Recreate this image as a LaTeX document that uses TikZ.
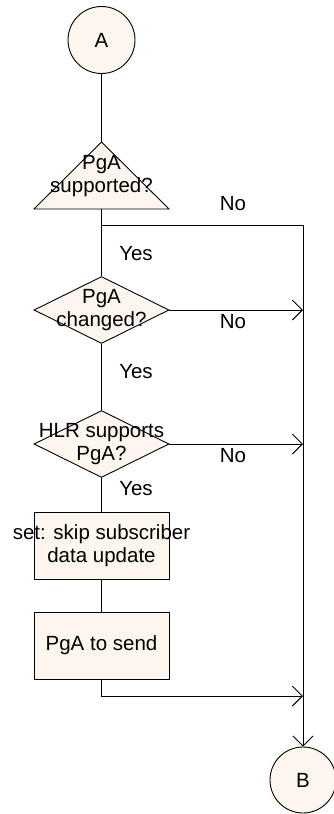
\documentclass[tikz,border=0pt]{standalone}
\usepackage{fontspec}
\setmainfont{Liberation Sans}
\usetikzlibrary{shapes.geometric,arrows.meta}
\definecolor{cream}{RGB}{253,246,238}
\begin{document}
\begin{tikzpicture}[x=1pt,y=-1pt,line width=0.9pt,
  font=\fontsize{20.5}{23}\selectfont,
  conn/.style={circle,draw,fill=cream,minimum size=67pt,inner sep=0pt},
  dia/.style={diamond,draw,fill=cream,minimum width=135pt,minimum height=67pt,inner sep=0pt},
  box/.style={rectangle,draw,fill=cream,minimum width=135pt,minimum height=67pt,inner sep=0pt},
  lbl/.style={align=center,inner sep=0pt},
  arr/.style={-{Straight Barb[length=10pt,width=20pt]}}]
\useasboundingbox (0,0) rectangle (333,814);
% connectors A and B
\node[conn] (A) at (101.5,40) {A};
\node[conn,minimum size=66pt] (B) at (303,780) {B};
% triangle decision
\coordinate (tA) at (101.5,142);
\coordinate (tL) at (34,209);
\coordinate (tR) at (169,209);
\coordinate (tB) at (101.5,209);
\draw[fill=cream] (tA) -- (tL) -- (tR) -- cycle;
\node[lbl] (t1) at (101.5,176) {PgA\\supported?};
% diamonds
\node[dia] (d1) at (101.5,310) {};
\node[lbl] (d1t) at (d1) {PgA\\changed?};
\node[dia] (d2) at (101.5,444) {};
\node[lbl] (d2t) at (d2) {HLR supports\\PgA?};
% boxes
\node[box] (b1) at (101.5,545.5) {};
\node[lbl] (b1t) at (b1) {set: skip subscriber\\data update};
\node[box] (b2) at (101.5,645.5) {};
\node[lbl] (b2t) at (b2) {PgA to send};
% junction coordinates
\coordinate (br) at (101.5,225);
\coordinate (brR) at (303,225);
\coordinate (j3) at (303,696);
% connectors
\draw (A) -- (tA);
\draw (tB) -- (d1.north);
\draw[arr] (br) -- (brR) -- (B.north);
\draw[arr] (d1.east) -- (d1.east -| brR);
\draw (d1.south) -- (d2.north);
\draw[arr] (d2.east) -- (d2.east -| brR);
\draw (d2.south) -- (b1.north);
\draw (b1.south) -- (b2.north);
\draw[arr] (b2.south) |- (j3);
% labels
\node[lbl] (n1) at (233,204) {No};
\node[lbl] (n2) at (233,322) {No};
\node[lbl] (n3) at (233,456) {No};
\node[lbl] (y1) at (136,254) {Yes};
\node[lbl] (y2) at (136,372) {Yes};
\node[lbl] (y3) at (136,489) {Yes};
\end{tikzpicture}
\end{document}
